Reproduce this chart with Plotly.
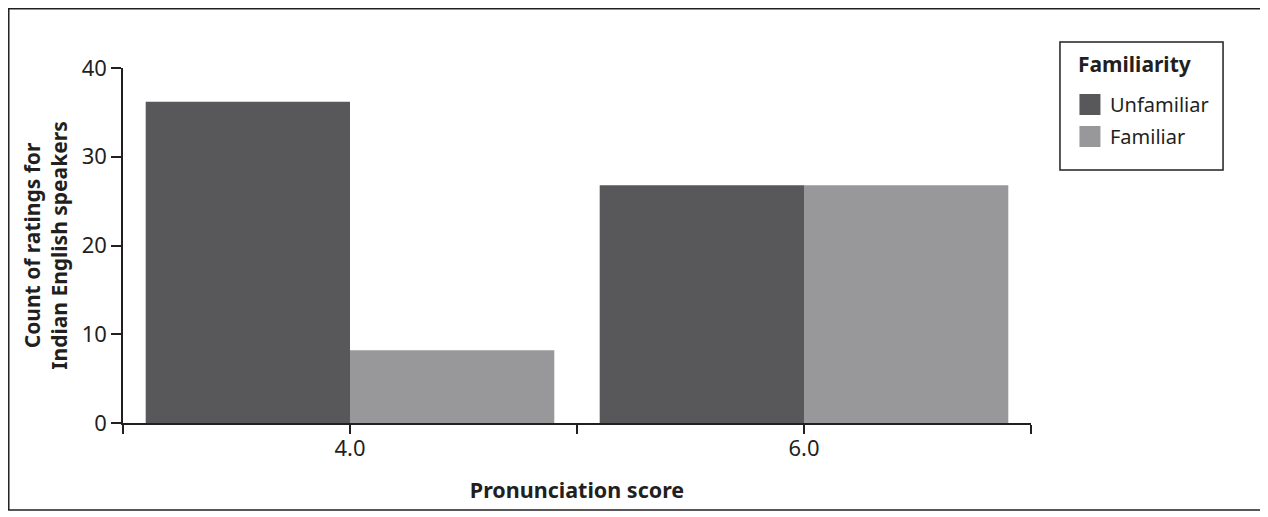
import plotly.graph_objects as go

scores = [4.0, 6.0]
tick_vals = [3, 4, 5, 6, 7]
tick_text = ["", "4.0", "", "6.0", ""]
series_names = ["Unfamiliar", "Familiar"]
unfamiliar = [36.2, 26.8]
familiar = [8.2, 26.8]
y_ticks = [0, 10, 20, 30, 40]
colors = ["#58585a", "#98989b"]

FONT = "Noto Sans"
AXC = "#231f20"

fig = go.Figure()
for name, vals, col in zip(series_names, [unfamiliar, familiar], colors):
    fig.add_trace(go.Bar(x=scores, y=vals, name=name, marker_color=col,
                         marker_line_width=0, showlegend=False, legendgroup=name))
    # legend-only entry with a larger square swatch
    fig.add_trace(go.Scatter(x=[None], y=[None], mode="markers", name=name,
                             legendgroup=name,
                             marker=dict(symbol="square", size=16, color=col,
                                         line=dict(color=col, width=5))))

fig.update_layout(
    width=1260, height=509,
    barmode="group", bargap=0.1, bargroupgap=0,
    plot_bgcolor="white", paper_bgcolor="white",
    margin=dict(l=115, r=237, t=60, b=94),
    font=dict(family=FONT, size=22, color=AXC),
    legend=dict(
        x=1.0429, y=0.952, xanchor="left", yanchor="top",
        borderwidth=0, bgcolor="rgba(0,0,0,0)",
        font=dict(size=20, family=FONT), itemsizing="trace", tracegroupgap=3,
    ),
    xaxis=dict(
        range=[3, 7], tickmode="array", tickvals=tick_vals, ticktext=tick_text,
        showline=True, linecolor=AXC, linewidth=1.5, ticks="outside",
        ticklen=9, tickcolor=AXC, tickwidth=1.5, showgrid=False, zeroline=False,
        ticklabelstandoff=-4,
        title=dict(text="<b>Pronunciation score</b>", font=dict(size=21.5), standoff=22),
    ),
    yaxis=dict(
        range=[0, 40], tickmode="array", tickvals=y_ticks,
        showline=True, linecolor=AXC, linewidth=1.5, ticks="outside",
        ticklen=10, tickcolor=AXC, tickwidth=1.5, showgrid=False, zeroline=False,
        title=dict(text="<b>Count of ratings for<br>Indian English speakers</b>",
                   font=dict(size=21), standoff=8),
    ),
    shapes=[
        dict(type="rect", xref="paper", yref="paper",
             x0=-0.1258, x1=1.2544, y0=-0.245, y1=1.1669,
             line=dict(color=AXC, width=1.5), fillcolor="rgba(0,0,0,0)", layer="below"),
        dict(type="rect", xref="paper", yref="paper",
             x0=1.0319, x1=1.2115, y0=0.7127, y1=1.0732,
             line=dict(color=AXC, width=1.5), fillcolor="rgba(0,0,0,0)", layer="below"),
    ],
    annotations=[
        dict(text="<b>Familiarity</b>", xref="paper", yref="paper",
             x=1.0496, y=1.0113, xanchor="left", yanchor="middle",
             showarrow=False, font=dict(size=21, family=FONT, color=AXC)),
    ],
)

fig.write_html("out.html")
